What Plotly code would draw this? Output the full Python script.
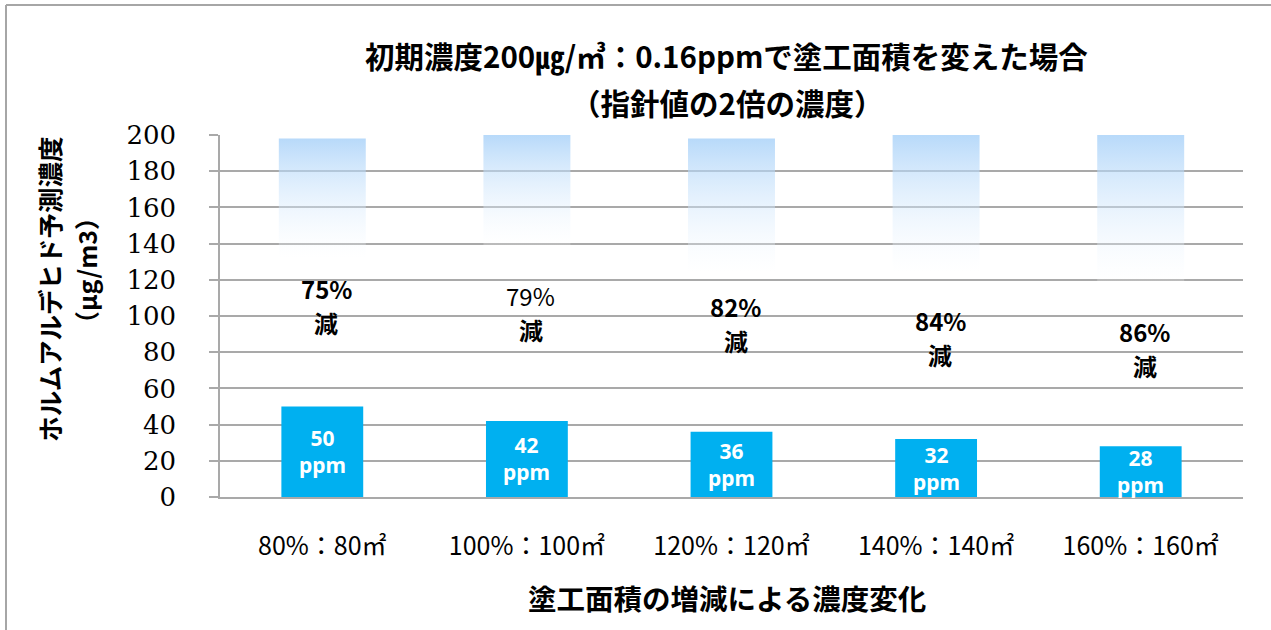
import plotly.graph_objects as go

# ---- data ----
categories = ["80%：80㎡", "100%：100㎡", "120%：120㎡", "140%：140㎡", "160%：160㎡"]
predicted = [50, 42, 36, 32, 28]                 # predicted concentration (blue bars)
initial_top = [198, 200, 198, 200, 200]          # faded "initial" bar top
initial_fade_bottom = [132, 139, 124, 124, 119]  # where the faded bar disappears
reduction_pct = [75, 79, 82, 84, 86]
reduction_label_y = [106, 102, 96, 88, 82]
y_ticks = [0, 20, 40, 60, 80, 100, 120, 140, 160, 180, 200]

# ---- styles ----
JP = "Noto Sans CJK JP"
GRID = "#a9a9a9"
BLUE = "#00b0f0"
pct_bold = [True, False, True, True, True]

fig = go.Figure()

xs = list(range(len(categories)))
gw = 0.425
for i, (lo, hi) in enumerate(zip(initial_fade_bottom, initial_top)):
    fig.add_trace(go.Scatter(
        x=[i - gw / 2, i + gw / 2, i + gw / 2, i - gw / 2, i - gw / 2],
        y=[lo, lo, hi, hi, lo],
        mode="lines", line=dict(width=0, color="rgba(0,0,0,0)"),
        fill="toself",
        fillgradient=dict(type="vertical",
                          colorscale=[[0, "rgba(255,255,255,0.2)"],
                                      [1, "rgba(160,205,248,0.75)"]]),
        hoverinfo="skip", showlegend=False,
    ))

fig.add_trace(go.Bar(
    x=xs, y=predicted, width=0.4,
    marker=dict(color=BLUE, line=dict(width=0)),
    showlegend=False, hoverinfo="skip",
))

annotations = []
for i, v in enumerate(predicted):
    annotations.append(dict(
        x=i, y=v / 2, xref="x", yref="y", showarrow=False,
        text=f"<b>{v}</b><br><b>ppm</b>", yanchor="middle",
        font=dict(family="Noto Sans, " + JP, size=21, color="white"),
    ))
for i, (p, ly) in enumerate(zip(reduction_pct, reduction_label_y)):
    pt = f"<b>{p}%</b>" if pct_bold[i] else f"{p}%"
    annotations.append(dict(
        x=i + 0.02, y=ly, xref="x", yref="y", showarrow=False,
        text=pt, yanchor="middle", yshift=17,
        font=dict(family=JP, size=24, color="black"),
    ))
    annotations.append(dict(
        x=i + 0.02, y=ly, xref="x", yref="y", showarrow=False,
        text="<b>減</b>", yanchor="middle", yshift=-17,
        font=dict(family=JP, size=24, color="black"),
    ))

# titles
annotations += [
    dict(x=0.4956, y=1.221, xref="paper", yref="paper", showarrow=False,
         text="<b>初期濃度200㎍/㎥：0.16ppmで塗工面積を変えた場合</b>",
         font=dict(family=JP, size=29.5, color="black"), yanchor="middle"),
    dict(x=0.4956, y=1.09, xref="paper", yref="paper", showarrow=False,
         text="<b>（指針値の2倍の濃度）</b>",
         font=dict(family=JP, size=29.5, color="black"), yanchor="middle"),
    dict(x=0.4956, y=-0.279, xref="paper", yref="paper", showarrow=False,
         text="<b>塗工面積の増減による濃度変化</b>",
         font=dict(family=JP, size=28.5, color="black"), yanchor="middle"),
    dict(x=-0.1672, y=0.575, xref="paper", yref="paper", showarrow=False,
         text="<b>ホルムアルデヒド予測濃度</b>", textangle=-90,
         font=dict(family=JP, size=25.5, color="black"),
         xanchor="center", yanchor="middle"),
    dict(x=-0.131, y=0.627, xref="paper", yref="paper", showarrow=False,
         text="<b>（μg/m3）</b>", textangle=-90,
         font=dict(family=JP, size=25, color="black"),
         xanchor="center", yanchor="middle"),
]

# chart border (top and left edges visible)
shapes = [
    dict(type="line", xref="paper", yref="paper",
         x0=(6 - 220) / 1023, x1=(1275 - 220) / 1023, y0=(497 - 5) / 362, y1=(497 - 5) / 362,
         line=dict(color="#a6a6a6", width=2)),
    dict(type="line", xref="paper", yref="paper",
         x0=(6 - 220) / 1023, x1=(6 - 220) / 1023, y0=(497 - 5) / 362, y1=(497 - 640) / 362,
         line=dict(color="#a6a6a6", width=2)),
]

fig.update_layout(
    width=1271, height=630,
    margin=dict(l=220, r=28, t=135, b=133),
    paper_bgcolor="white", plot_bgcolor="white",
    annotations=annotations, shapes=shapes,
    bargap=0.6,
)
fig.update_xaxes(
    range=[-0.5, 4.5], tickvals=xs, ticktext=categories,
    showgrid=False, zeroline=False,
    showline=True, linecolor=GRID, linewidth=1.5,
    ticks="", ticklabelstandoff=26,
    tickfont=dict(family=JP, size=25, color="black"),
)
fig.update_yaxes(
    range=[0, 200], tickvals=y_ticks,
    showgrid=True, gridcolor=GRID, gridwidth=1.5,
    zeroline=False, showline=True, linecolor=GRID, linewidth=1.5,
    ticks="outside", ticklen=9, tickcolor=GRID, tickwidth=1.5,
    ticklabelstandoff=28,
    tickfont=dict(family="DejaVu Serif", size=26, color="black"),
)

fig.write_html("out.html")
